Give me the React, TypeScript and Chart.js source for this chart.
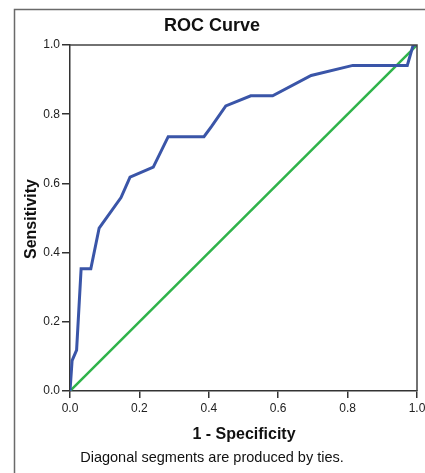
import React, { useEffect, useRef } from "react";
import { Chart, registerables } from "chart.js";

Chart.register(...registerables);

const fpr = [0, 0.006, 0.019, 0.032, 0.06, 0.084, 0.147, 0.173, 0.24, 0.283, 0.386, 0.408, 0.449, 0.521, 0.584, 0.695, 0.815, 0.972, 0.989, 1.0];
const tpr = [0, 0.088, 0.118, 0.353, 0.353, 0.471, 0.559, 0.618, 0.647, 0.735, 0.735, 0.765, 0.824, 0.853, 0.853, 0.912, 0.941, 0.941, 1.0, 1.0];
const refX = [0, 1];
const refY = [0, 1];

const chartTitle = "ROC Curve";
const xTitle = "1 - Specificity";
const yTitle = "Sensitivity";
const footnote = "Diagonal segments are produced by ties.";

const FONT = "'Liberation Sans', Arial, sans-serif";

const decorPlugin = {
  id: "decor",
  beforeDraw(chart: any) {
    const ctx = chart.ctx;
    ctx.save();
    ctx.fillStyle = "#ffffff";
    ctx.fillRect(0, 0, chart.width, chart.height);
    ctx.strokeStyle = "#6a6a6a";
    ctx.lineWidth = 1.5;
    ctx.beginPath();
    ctx.moveTo(14.5, chart.height + 5);
    ctx.lineTo(14.5, 9.5);
    ctx.lineTo(chart.width + 5, 9.5);
    ctx.stroke();
    ctx.restore();
  },
  afterDraw(chart: any) {
    const ctx = chart.ctx;
    const a = chart.chartArea;
    ctx.save();
    ctx.strokeStyle = "#444444";
    ctx.lineWidth = 1.5;
    ctx.beginPath();
    ctx.moveTo(a.left, a.top);
    ctx.lineTo(a.right, a.top);
    ctx.lineTo(a.right, a.bottom);
    ctx.stroke();

    ctx.fillStyle = "#111111";
    ctx.textAlign = "center";
    ctx.textBaseline = "middle";
    ctx.font = `bold 18px ${FONT}`;
    ctx.fillText(chartTitle, 212, 26);
    ctx.font = `bold 16px ${FONT}`;
    ctx.fillText(xTitle, 244, 435);
    ctx.font = `14.5px ${FONT}`;
    ctx.fillText(footnote, 212, 458);
    ctx.save();
    ctx.translate(32, 219);
    ctx.rotate(-Math.PI / 2);
    ctx.font = `bold 16px ${FONT}`;
    ctx.fillText(yTitle, 0, 0);
    ctx.restore();
    ctx.restore();
  },
};

export default function App() {
  const ref = useRef<HTMLCanvasElement | null>(null);
  useEffect(() => {
    if (!ref.current) return;
    const toPts = (xs: number[], ys: number[]) => xs.map((x, i) => ({ x, y: ys[i] }));
    const chart = new Chart(ref.current, {
      type: "scatter",
      data: {
        datasets: [
          {
            label: "ROC",
            data: toPts(fpr, tpr),
            showLine: true,
            borderColor: "#3a55a8",
            borderWidth: 3,
            pointRadius: 0,
            fill: false,
            order: 1,
          },
          {
            label: "Reference",
            data: toPts(refX, refY),
            showLine: true,
            borderColor: "#2fb34a",
            borderWidth: 2.5,
            pointRadius: 0,
            fill: false,
            order: 2,
          },
        ],
      },
      options: {
        animation: false,
        responsive: true,
        maintainAspectRatio: false,
        layout: { padding: { left: 0, top: 45, right: 8, bottom: 0 } },
        plugins: { legend: { display: false }, tooltip: { enabled: false }, title: { display: false } },
        scales: {
          x: {
            type: "linear",
            min: 0,
            max: 1,
            afterFit: (s: any) => {
              s.height = 82;
              s.paddingLeft = 0;
              s.paddingRight = 0;
            },
            ticks: {
              stepSize: 0.2,
              callback: (v: any) => Number(v).toFixed(1),
              font: { family: FONT, size: 12 },
              color: "#222222",
              padding: 3,
              maxRotation: 0,
            },
            grid: { drawOnChartArea: false, drawTicks: true, tickLength: 7, color: "#333333", lineWidth: 1.5 },
            border: { display: true, color: "#333333", width: 1.5 },
          },
          y: {
            type: "linear",
            min: 0,
            max: 1,
            afterFit: (s: any) => {
              s.width = 70;
              s.paddingTop = 0;
              s.paddingBottom = 0;
            },
            ticks: {
              stepSize: 0.2,
              callback: (v: any) => Number(v).toFixed(1),
              font: { family: FONT, size: 12 },
              color: "#222222",
              padding: 2,
            },
            grid: { drawOnChartArea: false, drawTicks: true, tickLength: 8, color: "#333333", lineWidth: 1.5 },
            border: { display: true, color: "#333333", width: 1.5 },
          },
        },
      },
      plugins: [decorPlugin],
    });
    return () => chart.destroy();
  }, []);
  return (
    <div style={{ position: "fixed", left: 0, top: 0, width: 425, height: 473, background: "#fff" }}>
      <canvas ref={ref} />
    </div>
  );
}
